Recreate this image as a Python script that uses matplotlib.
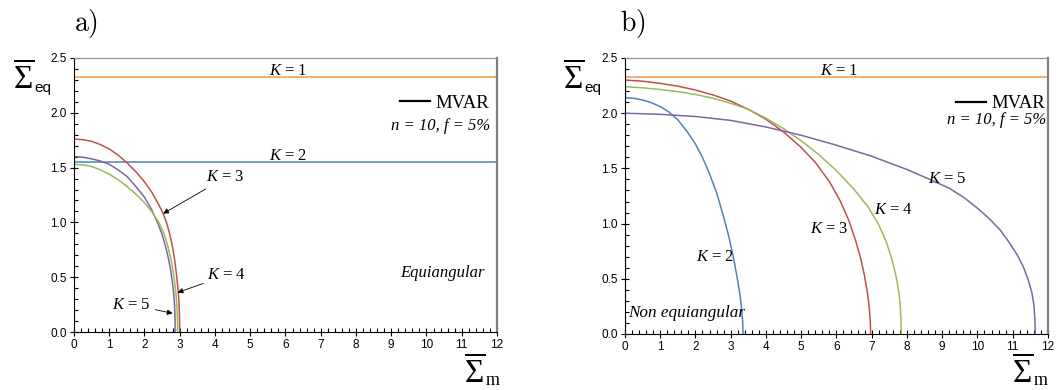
import matplotlib
matplotlib.use("Agg")
import matplotlib.pyplot as plt
from matplotlib.lines import Line2D
from matplotlib.ticker import MultipleLocator

plt.rcParams['font.family'] = ['Liberation Serif', 'DejaVu Serif']
plt.rcParams['mathtext.fontset'] = 'custom'
plt.rcParams['mathtext.rm'] = 'Liberation Serif'
plt.rcParams['mathtext.it'] = 'Liberation Serif:italic'
plt.rcParams['mathtext.bf'] = 'Liberation Serif:bold'
plt.rcParams['mathtext.sf'] = 'Liberation Sans'

# colours (Excel 2007 palette)
c_k1 = '#F79646'
c_k2 = '#4F81BD'
c_k3 = '#C0504D'
c_k4 = '#9BBB59'
c_k5 = '#8064A2'

# a) equiangular
a_k1 = 2.33
a_k2 = 1.55
a_k3_x = [0, 0.25, 0.5, 0.75, 1.0, 1.25, 1.5, 1.75, 2.0, 2.2, 2.4, 2.53, 2.62,
          2.72, 2.8, 2.86, 2.91, 2.95, 2.98, 2.995, 3.0]
a_k3_y = [1.76, 1.755, 1.74, 1.71, 1.67, 1.615, 1.545, 1.465, 1.37, 1.28, 1.165,
          1.08, 1.005, 0.89, 0.77, 0.65, 0.52, 0.40, 0.27, 0.14, 0.0]
a_k4_x = [0, 0.25, 0.5, 0.75, 1.0, 1.25, 1.5, 1.75, 2.0, 2.2, 2.41, 2.55, 2.65,
          2.74, 2.8, 2.85, 2.89, 2.92, 2.935, 2.94]
a_k4_y = [1.53, 1.525, 1.51, 1.48, 1.44, 1.39, 1.33, 1.26, 1.18, 1.10, 1.00,
          0.90, 0.80, 0.68, 0.58, 0.47, 0.36, 0.24, 0.12, 0.0]
a_k5_x = [0, 0.25, 0.5, 0.75, 1.0, 1.25, 1.5, 1.75, 2.0, 2.2, 2.37, 2.5, 2.6,
          2.68, 2.74, 2.79, 2.83, 2.855, 2.868, 2.87]
a_k5_y = [1.60, 1.595, 1.58, 1.56, 1.53, 1.48, 1.42, 1.33, 1.23, 1.12, 1.00,
          0.89, 0.78, 0.67, 0.57, 0.46, 0.35, 0.24, 0.12, 0.0]

# b) non equiangular
b_k1 = 2.33
b_k2_x = [0, 0.25, 0.5, 0.75, 1.0, 1.25, 1.5, 1.75, 2.0, 2.2, 2.4, 2.6, 2.8,
          2.95, 3.08, 3.19, 3.26, 3.31, 3.34, 3.35]
b_k2_y = [2.14, 2.135, 2.12, 2.095, 2.06, 2.01, 1.94, 1.84, 1.72, 1.60, 1.45,
          1.28, 1.06, 0.88, 0.69, 0.50, 0.36, 0.23, 0.11, 0.0]
b_k3_x = [0, 0.5, 1, 1.5, 2, 2.5, 3, 3.5, 4, 4.5, 5, 5.4, 5.8, 6.1, 6.35, 6.55,
          6.7, 6.8, 6.88, 6.93, 6.96, 6.97]
b_k3_y = [2.30, 2.29, 2.27, 2.245, 2.21, 2.165, 2.11, 2.035, 1.945, 1.83, 1.69,
          1.555, 1.38, 1.21, 1.03, 0.84, 0.67, 0.52, 0.37, 0.24, 0.12, 0.0]
b_k4_x = [0, 0.5, 1, 1.5, 2, 2.5, 3, 3.5, 4, 4.5, 5, 5.5, 6, 6.5, 6.9, 7.2,
          7.42, 7.58, 7.7, 7.77, 7.81, 7.83, 7.84]
b_k4_y = [2.24, 2.23, 2.215, 2.195, 2.17, 2.135, 2.09, 2.035, 1.955, 1.86,
          1.75, 1.625, 1.48, 1.31, 1.15, 0.99, 0.83, 0.67, 0.51, 0.38, 0.26,
          0.14, 0.0]
b_k5_x = [0, 1, 2, 3, 4, 5, 6, 7, 8, 8.65, 9.2, 9.6, 10.0, 10.35, 10.65, 10.9,
          11.12, 11.3, 11.44, 11.54, 11.6, 11.63, 11.64]
b_k5_y = [2.00, 1.99, 1.97, 1.935, 1.875, 1.80, 1.71, 1.61, 1.49, 1.40, 1.32,
          1.24, 1.14, 1.04, 0.94, 0.83, 0.72, 0.61, 0.49, 0.38, 0.27, 0.14, 0.0]

fig = plt.figure(figsize=(10.61, 3.90), dpi=100)
ax1 = fig.add_axes([0.0697, 0.1487, 0.3987, 0.7026])
ax2 = fig.add_axes([0.589, 0.1436, 0.3987, 0.7077])

lw = 1.1
arrow = dict(arrowstyle='-|>', color='black', lw=0.6, mutation_scale=8,
             shrinkA=1, shrinkB=0)


def style(ax, anchor_x):
    ax.set_xlim(0, 12)
    ax.set_ylim(0, 2.5)
    ax.xaxis.set_major_locator(MultipleLocator(1))
    ax.xaxis.set_minor_locator(MultipleLocator(0.2))
    ax.yaxis.set_major_locator(MultipleLocator(0.5))
    ax.yaxis.set_minor_locator(MultipleLocator(0.1))
    ax.yaxis.set_major_formatter('{x:.1f}')
    ax.tick_params(which='major', direction='inout', length=6, width=0.8,
                   labelsize=8.5, pad=2)
    ax.tick_params(which='minor', direction='in', length=3, width=0.8)
    for lab in ax.get_xticklabels() + ax.get_yticklabels():
        lab.set_family('Liberation Sans')
    ax.spines['left'].set_color('black')
    ax.spines['bottom'].set_color('black')
    ax.spines['top'].set_color('#8c8c8c')
    ax.spines['right'].set_color('#7f7f7f')
    ax.spines['right'].set_linewidth(1.6)
    handle = Line2D([], [], color='black', lw=1.6)
    ax.legend([handle], ['MVAR'], loc='center right',
              bbox_to_anchor=(anchor_x, 0.835), frameon=False, fontsize=13.5,
              handlelength=1.6, handletextpad=0.3, borderaxespad=0.3,
              borderpad=0.1)


def fig_px(px, py):
    return px / 1061, 1 - py / 390


def sigma_label(px, py, sub, sub_dy, sub_font, sub_size):
    # overlined Sigma with a small subscript next to it
    fig.text(*fig_px(px, py), r'$\overline{\Sigma}$', ha='right',
             va='baseline', fontsize=24)
    fig.text(*fig_px(px + 0.5, py + sub_dy), sub, ha='left', va='baseline',
             fontsize=sub_size, family=sub_font)


# ---- a)
ax1.axhline(a_k1, color=c_k1, lw=lw)
ax1.axhline(a_k2, color=c_k2, lw=lw)
ax1.plot(a_k3_x, a_k3_y, color=c_k3, lw=lw)
ax1.plot(a_k5_x, a_k5_y, color=c_k5, lw=lw)
ax1.plot(a_k4_x, a_k4_y, color=c_k4, lw=lw)
style(ax1, 1.0)

ax1.text(6.07, 2.38, r'$K$ = 1', ha='center', va='center', fontsize=12)
ax1.text(6.07, 1.61, r'$K$ = 2', ha='center', va='center', fontsize=12)
ax1.annotate(r'$K$ = 3', xy=(2.53, 1.08), xytext=(4.3, 1.41), ha='center',
             va='center', fontsize=12, arrowprops=arrow)
ax1.annotate(r'$K$ = 4', xy=(2.94, 0.36), xytext=(4.34, 0.52), ha='center',
             va='center', fontsize=12, arrowprops=arrow)
ax1.annotate(r'$K$ = 5', xy=(2.8, 0.17), xytext=(1.64, 0.25), ha='center',
             va='center', fontsize=12, arrowprops=arrow)
ax1.text(11.8, 1.88, 'n = 10, f = 5%', style='italic', ha='right', va='center',
         fontsize=12)
ax1.text(11.66, 0.54, 'Equiangular', style='italic', ha='right', va='center',
         fontsize=12)

# ---- b)
ax2.axhline(b_k1, color=c_k1, lw=lw)
ax2.plot(b_k2_x, b_k2_y, color=c_k2, lw=lw)
ax2.plot(b_k3_x, b_k3_y, color=c_k3, lw=lw)
ax2.plot(b_k4_x, b_k4_y, color=c_k4, lw=lw)
ax2.plot(b_k5_x, b_k5_y, color=c_k5, lw=lw)
style(ax2, 1.012)

ax2.text(6.08, 2.38, r'$K$ = 1', ha='center', va='center', fontsize=12)
ax2.text(2.57, 0.70, r'$K$ = 2', ha='center', va='center', fontsize=12)
ax2.text(5.8, 0.95, r'$K$ = 3', ha='center', va='center', fontsize=12)
ax2.text(7.62, 1.12, r'$K$ = 4', ha='center', va='center', fontsize=12)
ax2.text(9.15, 1.40, r'$K$ = 5', ha='center', va='center', fontsize=12)
ax2.text(11.95, 1.94, 'n = 10, f = 5%', style='italic', ha='right', va='center',
         fontsize=12)
ax2.text(0.1, 0.19, 'Non equiangular', style='italic', ha='left', va='center',
         fontsize=12.3)

# ---- axis labels and panel letters
sigma_label(34, 88, 'eq', 4, 'Liberation Sans', 11)
sigma_label(584, 88, 'eq', 4, 'Liberation Sans', 11)
sigma_label(485, 382, 'm', 3, 'Liberation Serif', 13)
sigma_label(1033, 382, 'm', 3, 'Liberation Serif', 13)
fig.text(*fig_px(86, 24), r'$\mathrm{a)}$', ha='center', va='center',
         fontsize=20, math_fontfamily='cm')
fig.text(*fig_px(633, 24), r'$\mathrm{b)}$', ha='center', va='center',
         fontsize=20, math_fontfamily='cm')

fig.savefig('out.png', dpi=100)
